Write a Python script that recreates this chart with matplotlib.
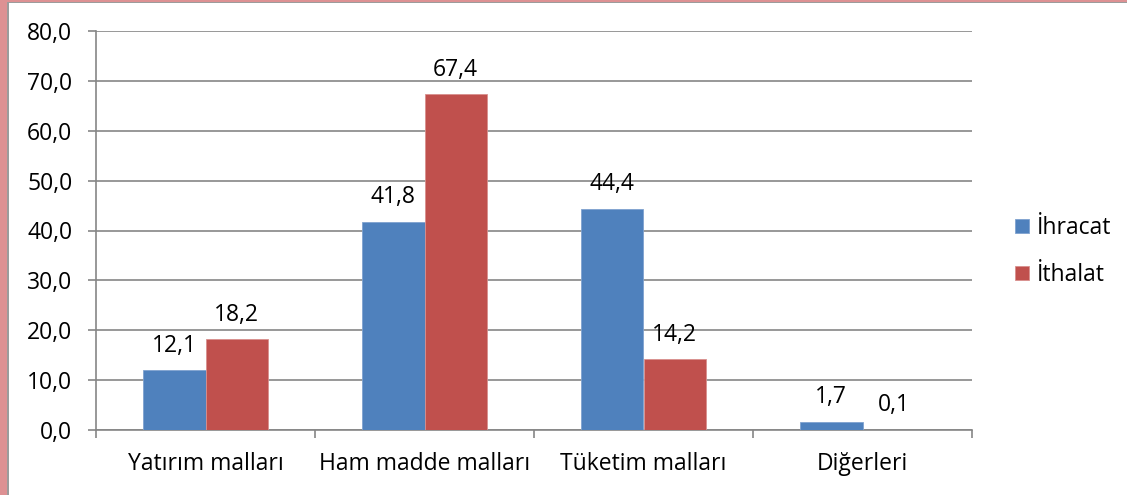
import matplotlib.pyplot as plt
import numpy as np
from matplotlib.patches import Rectangle

plt.rcParams['font.family'] = ['Open Sans', 'DejaVu Sans']

categories = ['Yatırım malları', 'Ham madde malları', 'Tüketim malları', 'Diğerleri']
ihracat = [12.1, 41.8, 44.4, 1.7]
ithalat = [18.2, 67.4, 14.2, 0.1]
series_names = ['İhracat', 'İthalat']
yticks = [0, 10, 20, 30, 40, 50, 60, 70, 80]

blue = '#4F81BD'
red = '#C0504D'
grid_col = '#868686'
fs = 16.5

fig = plt.figure(figsize=(11.27, 4.95), dpi=100)
ax = fig.add_axes([96 / 1127, 1 - 430 / 495, 876 / 1127, 399 / 495])

# pembe çerçeve (sol ve üst)
fig.add_artist(Rectangle((0, 0), 7 / 1127, 1, transform=fig.transFigure,
                         facecolor='#DD9193', edgecolor='none'))
fig.add_artist(Rectangle((7 / 1127, 0), 2 / 1127, 1, transform=fig.transFigure,
                         facecolor='#9C9C9C', edgecolor='none'))
fig.add_artist(Rectangle((0, 1 - 2 / 495), 1, 2 / 495, transform=fig.transFigure,
                         facecolor='#DD9193', edgecolor='none'))
fig.add_artist(Rectangle((7 / 1127, 1 - 3 / 495), 1, 1 / 495, transform=fig.transFigure,
                         facecolor='#9C9C9C', edgecolor='none'))

x = np.arange(len(categories))
w = 0.285
b1 = ax.bar(x - w / 2, ihracat, w, color=blue, edgecolor='#7FA2CF', linewidth=0.6,
            label=series_names[0], zorder=3)
b2 = ax.bar(x + w / 2, ithalat, w, color=red, edgecolor='#D9908E', linewidth=0.6,
            label=series_names[1], zorder=3)

for bars, vals in [(b1, ihracat), (b2, ithalat)]:
    for r, v in zip(bars, vals):
        ax.annotate(f'{v:.1f}'.replace('.', ','), (r.get_x() + r.get_width() / 2, v),
                    xytext=(0, 13), textcoords='offset points', ha='center', va='baseline',
                    fontsize=fs)

ax.set_ylim(0, 80)
ax.set_xlim(-0.5, len(categories) - 0.5)
ax.set_yticks(yticks)
ax.set_yticklabels([f'{t:.1f}'.replace('.', ',') for t in yticks], fontsize=fs)
ax.yaxis.grid(True, color=grid_col, linewidth=1.2, zorder=0)
ax.set_axisbelow(True)

ax.set_xticks(x)
ax.set_xticklabels(categories, fontsize=fs)
ax.set_xticks(np.arange(-0.5, len(categories)), minor=True)
ax.tick_params(axis='x', which='major', length=0, pad=16)
ax.tick_params(axis='x', which='minor', length=6, color=grid_col, width=1.2)
ax.tick_params(axis='y', length=6, color=grid_col, width=1.2, pad=11)

for s in ['top', 'right']:
    ax.spines[s].set_visible(False)
for s in ['left', 'bottom']:
    ax.spines[s].set_color(grid_col)
    ax.spines[s].set_linewidth(1.2)

ax.legend(loc='center left', bbox_to_anchor=(1.026, 0.447), frameon=False,
          fontsize=fs, handlelength=0.6, handleheight=0.6, handletextpad=0.35,
          labelspacing=1.0)

fig.savefig('out.png', dpi=100)
